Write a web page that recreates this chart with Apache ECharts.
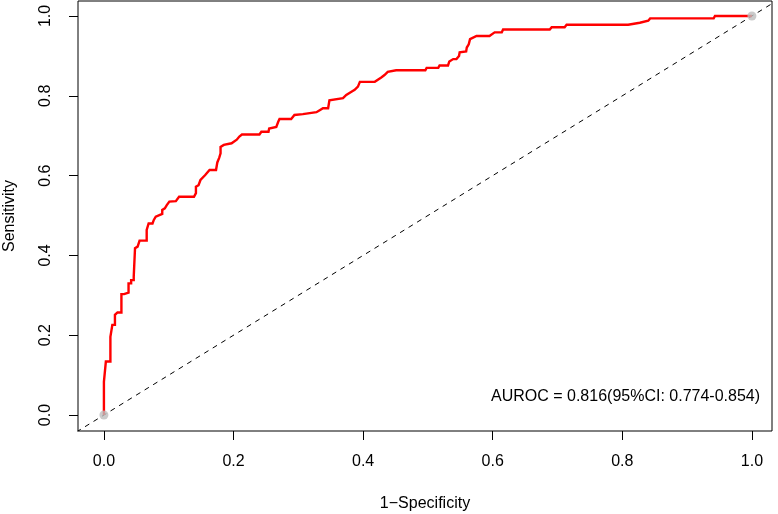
<!DOCTYPE html>
<html>
<head>
<meta charset="utf-8">
<script src="https://cdn.jsdelivr.net/npm/echarts@6/dist/echarts.min.js"></script>
<style>
  html, body { margin: 0; padding: 0; background: #fff; }
  #chart { width: 778px; height: 514px; }
</style>
</head>
<body>
<div id="chart"></div>
<script>
// ROC curve corners (1-specificity, sensitivity)
const fpr = [0, 0, 0.003, 0.003, 0.010, 0.010, 0.013, 0.013, 0.017, 0.017, 0.021, 0.027, 0.027, 0.031, 0.038, 0.038,
  0.042, 0.042, 0.046, 0.046, 0.048, 0.048, 0.052, 0.055, 0.055, 0.066, 0.066, 0.069, 0.069, 0.075, 0.077, 0.080,
  0.083, 0.090, 0.090, 0.094, 0.097, 0.101, 0.111, 0.112, 0.116, 0.139, 0.142, 0.142, 0.146, 0.149, 0.152, 0.156,
  0.159, 0.163, 0.173, 0.175, 0.178, 0.180, 0.180, 0.185, 0.188, 0.197, 0.200, 0.205, 0.209, 0.213, 0.240, 0.243,
  0.254, 0.255, 0.266, 0.269, 0.271, 0.289, 0.294, 0.307, 0.309, 0.328, 0.333, 0.338, 0.346, 0.348, 0.351, 0.369,
  0.374, 0.382, 0.387, 0.392, 0.395, 0.418, 0.420, 0.428, 0.433, 0.438, 0.451, 0.496, 0.498, 0.516, 0.518, 0.531,
  0.533, 0.539, 0.544, 0.548, 0.549, 0.559, 0.560, 0.563, 0.565, 0.567, 0.575, 0.595, 0.598, 0.603, 0.614, 0.616,
  0.688, 0.691, 0.711, 0.714, 0.809, 0.812, 0.827, 0.830, 0.840, 0.843, 0.941, 0.943, 1.0];
const tpr = [0, 0.083, 0.083, 0.134, 0.134, 0.196, 0.196, 0.226, 0.226, 0.251, 0.257, 0.257, 0.303, 0.303, 0.307, 0.330,
  0.330, 0.338, 0.338, 0.347, 0.347, 0.418, 0.422, 0.426, 0.437, 0.437, 0.464, 0.464, 0.480, 0.480, 0.489, 0.497,
  0.501, 0.504, 0.514, 0.518, 0.526, 0.535, 0.536, 0.541, 0.547, 0.547, 0.556, 0.572, 0.576, 0.589, 0.591, 0.601,
  0.606, 0.614, 0.614, 0.633, 0.645, 0.656, 0.672, 0.677, 0.681, 0.681, 0.685, 0.690, 0.698, 0.703, 0.703, 0.710,
  0.710, 0.718, 0.722, 0.735, 0.742, 0.742, 0.752, 0.754, 0.759, 0.759, 0.764, 0.769, 0.769, 0.789, 0.794, 0.794,
  0.802, 0.810, 0.815, 0.823, 0.835, 0.835, 0.840, 0.846, 0.852, 0.860, 0.864, 0.864, 0.870, 0.870, 0.876, 0.876,
  0.886, 0.892, 0.892, 0.900, 0.909, 0.911, 0.921, 0.929, 0.942, 0.947, 0.950, 0.950, 0.955, 0.959, 0.959, 0.966,
  0.966, 0.972, 0.972, 0.978, 0.978, 0.983, 0.983, 0.988, 0.988, 0.994, 0.994, 1.0, 1.0];

const tickValues = [0, 0.2, 0.4, 0.6, 0.8, 1.0];
const endPoints = [[0, 0], [1, 1]];
const chanceLine = [[-0.2, -0.2], [1.2, 1.2]];
const aurocText = 'AUROC = 0.816(95%CI: 0.774-0.854)';

const font = '"Liberation Sans", Arial, Helvetica, sans-serif';
const chart = echarts.init(document.getElementById('chart'));

// same rectangle for all grids: grid 0 holds the data and the box,
// grids 1 and 2 only carry the bottom / left axes (sitting on zero = box edge)
const rect = { left: 78, right: 6, top: 1, bottom: 83, containLabel: false, outerBoundsMode: 'none' };
const xRange = { min: -0.04, max: 1.031 };
const yRange = { min: -0.04, max: 1.0376 };

const tickStyle = { show: true, length: 9, customValues: tickValues, lineStyle: { color: '#000', width: 1 } };
const labelStyle = { customValues: tickValues, color: '#000', fontSize: 16, fontFamily: font, formatter: v => v.toFixed(1) };
const nameStyle = { color: '#000', fontSize: 16, fontFamily: font };

const option = {
  animation: false,
  backgroundColor: '#fff',
  grid: [
    Object.assign({ show: true, borderColor: '#000', borderWidth: 1 }, rect),
    Object.assign({}, rect),
    Object.assign({}, rect)
  ],
  xAxis: [
    Object.assign({ type: 'value', gridIndex: 0, show: false }, xRange),
    Object.assign({
      type: 'value', gridIndex: 1,
      splitLine: { show: false },
      axisLine: { show: false },
      axisTick: tickStyle,
      axisLabel: Object.assign({ margin: 23 }, labelStyle),
      name: '1\u2212Specificity', nameLocation: 'middle', nameGap: 65, nameTextStyle: nameStyle
    }, xRange),
    { type: 'value', gridIndex: 2, show: false, min: 0, max: 1.071 }
  ],
  yAxis: [
    Object.assign({ type: 'value', gridIndex: 0, show: false }, yRange),
    { type: 'value', gridIndex: 1, show: false, min: 0, max: 1.0776 },
    Object.assign({
      type: 'value', gridIndex: 2,
      splitLine: { show: false },
      axisLine: { show: false },
      axisTick: tickStyle,
      axisLabel: Object.assign({ margin: 24, rotate: 90 }, labelStyle),
      name: 'Sensitivity', nameLocation: 'middle', nameGap: 60, nameTextStyle: nameStyle
    }, yRange)
  ],
  series: [
    {
      type: 'line',
      data: chanceLine,
      symbol: 'none',
      clip: true,
      lineStyle: { color: '#000', width: 1, type: [5, 5] },
      silent: true
    },
    {
      type: 'line',
      data: fpr.map((x, i) => [x, tpr[i]]),
      symbol: 'none',
      clip: true,
      lineStyle: { color: '#ff0000', width: 2.4, join: 'miter' },
      silent: true
    },
    {
      type: 'scatter',
      data: endPoints,
      symbolSize: 9,
      z: 5,
      clip: false,
      itemStyle: { color: '#bebebe' },
      silent: true
    }
  ],
  graphic: [
    {
      type: 'text',
      left: 491,
      top: 389,
      style: { text: aurocText, fill: '#000', fontSize: 16, fontFamily: font }
    }
  ]
};

chart.setOption(option);
</script>
</body>
</html>
